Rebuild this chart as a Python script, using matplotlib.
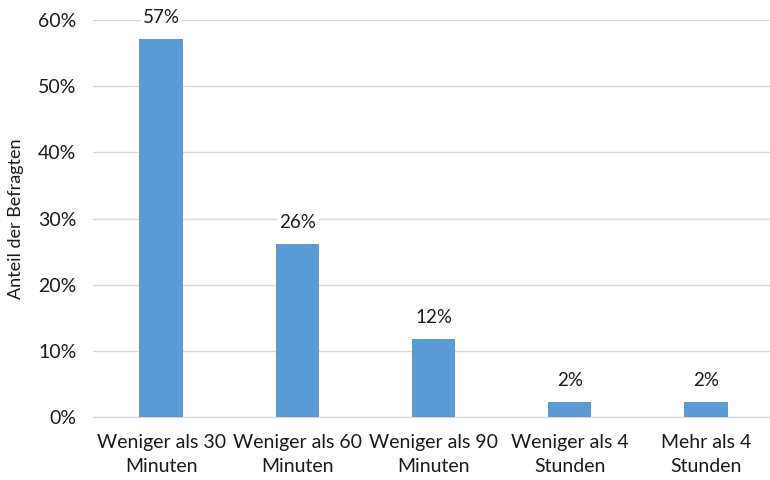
import matplotlib
matplotlib.use("Agg")
import matplotlib.pyplot as plt
from matplotlib.ticker import FuncFormatter

categories = ["Weniger als 30\nMinuten", "Weniger als 60\nMinuten", "Weniger als 90\nMinuten",
              "Weniger als 4\nStunden", "Mehr als 4\nStunden"]
values = [57.1, 26.2, 11.8, 2.3, 2.3]
labels = ["57%", "26%", "12%", "2%", "2%"]

plt.rcParams['font.family'] = ['Lato', 'DejaVu Sans']
txt = "#1a1a1a"
fig = plt.figure(figsize=(7.7, 4.8), dpi=100)
ax = fig.add_axes([0.121, 0.131, 0.884, 0.827])
x = list(range(len(categories)))
ax.bar(x, values, width=0.32, color="#5B9BD5", zorder=3)
for xi, v, l in zip(x, values, labels):
    ax.text(xi, v + 2.0, l, ha="center", va="bottom", fontsize=13.5, color=txt,
            bbox=dict(facecolor="white", edgecolor="none", pad=1.5), zorder=4)
ax.set_xlim(-0.5, len(categories) - 0.5)
ax.set_ylim(0, 60)
ax.set_yticks(range(0, 61, 10))
ax.yaxis.set_major_formatter(FuncFormatter(lambda v, p: f"{int(v)}%"))
ax.set_xticks(x)
ax.set_xticklabels(categories, fontsize=14, color=txt, linespacing=1.55)
ax.tick_params(axis="y", labelsize=14, colors=txt, length=0, pad=12)
ax.tick_params(axis="x", length=0, pad=12)
ax.grid(axis="y", color="#D9D9D9", linewidth=1, zorder=0)
for s in ["top", "right", "left"]:
    ax.spines[s].set_visible(False)
ax.spines["bottom"].set_color("#D9D9D9")
ax.set_ylabel("Anteil der Befragten", fontsize=13, color=txt, labelpad=10)
fig.savefig("out.png", dpi=100)
